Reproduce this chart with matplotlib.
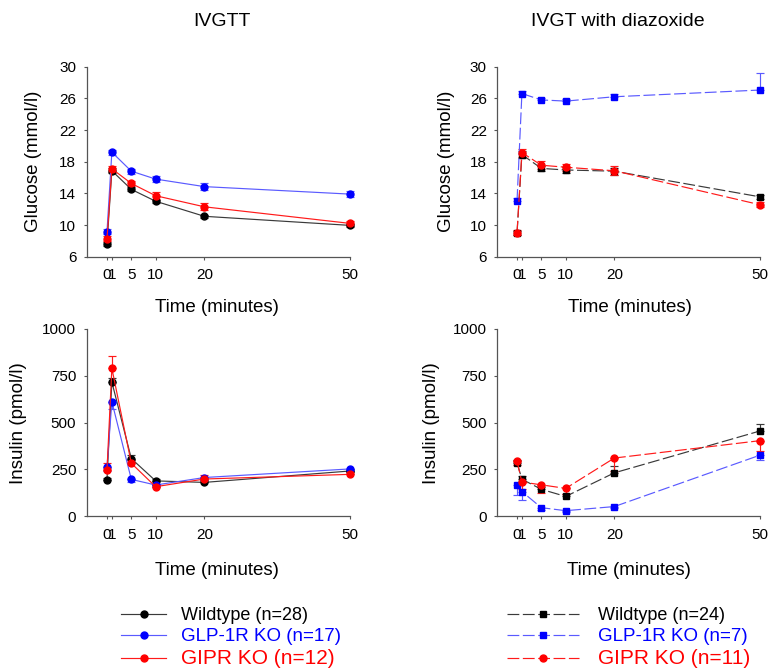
import matplotlib
matplotlib.use("Agg")
import matplotlib.pyplot as plt
from matplotlib.lines import Line2D
import numpy as np

plt.rcParams['font.family'] = ['Liberation Sans', 'DejaVu Sans']

# ---------------- data ----------------
time_min = [0, 1, 5, 10, 20, 50]
x_ticks = [0, 1, 5, 10, 20, 50]

# IVGTT glucose (mmol/l)
glu_wt = [7.65, 16.85, 14.5, 13.0, 11.1, 9.95]
glu_wt_err = [0.25, 0.3, 0.25, 0.2, 0.2, 0.2]
glu_glp = [9.15, 19.2, 16.8, 15.8, 14.85, 13.9]
glu_glp_err = [0.3, 0.3, 0.3, 0.35, 0.45, 0.35]
glu_gipr = [8.25, 17.1, 15.25, 13.7, 12.3, 10.2]
glu_gipr_err = [0.3, 0.4, 0.35, 0.45, 0.45, 0.3]

# IVGT with diazoxide glucose (mmol/l)
dglu_wt = [9.0, 18.9, 17.15, 16.95, 16.8, 13.55]
dglu_wt_err = [0.2, 0.4, 0.35, 0.4, 0.45, 0.3]
dglu_glp = [13.05, 26.6, 25.8, 25.65, 26.2, 27.05]
dglu_glp_err = [0.3, 0.3, 0.3, 0.3, 0.3, 2.1]
dglu_gipr = [9.05, 19.15, 17.55, 17.3, 16.85, 12.55]
dglu_gipr_err = [0.3, 0.5, 0.5, 0.45, 0.55, 0.3]

# IVGTT insulin (pmol/l)
ins_wt = [196, 717, 308, 189, 181, 242]
ins_wt_err = [10, 20, 20, 10, 12, 12]
ins_glp = [262, 612, 197, 167, 207, 253]
ins_glp_err = [20, 40, 12, 10, 15, 12]
ins_gipr = [247, 790, 283, 158, 199, 224]
ins_gipr_err = [35, 67, 16, 10, 21, 15]

# IVGT with diazoxide insulin (pmol/l)
dins_wt = [285, 198, 144, 106, 232, 456]
dins_wt_err = [15, 15, 15, 12, 35, 36]
dins_glp = [167, 132, 46, 30, 52, 327]
dins_glp_err = [53, 45, 10, 8, 10, 26]
dins_gipr = [295, 183, 168, 149, 311, 404]
dins_gipr_err = [20, 36, 41, 32, 71, 53]

labels_left = ["Wildtype (n=28)", "GLP-1R KO (n=17)", "GIPR KO (n=12)"]
labels_right = ["Wildtype (n=24)", "GLP-1R KO (n=7)", "GIPR KO (n=11)"]
titles = ["IVGTT", "IVGT with diazoxide"]

# ---------------- style ----------------
MK_COL = {'wt': '#000000', 'glp': '#0000ff', 'gipr': '#ff0000'}
LN_COL = {'wt': '#3a3a3a', 'glp': '#5a5aff', 'gipr': '#ff1a1a'}
TXT_COL = ['#000000', '#0000ff', '#ff0000']
LEG_SIZES = [13, 13.5, 15]
AX_COL = '#555555'
DASH = (10, 3)

fig = plt.figure(figsize=(7.72, 6.70), dpi=100)
ax1 = fig.add_axes([0.1123, 0.6169, 0.3415, 0.2836])
ax2 = fig.add_axes([0.6442, 0.6169, 0.3407, 0.2836])
ax3 = fig.add_axes([0.1123, 0.2294, 0.3415, 0.2796])
ax4 = fig.add_axes([0.6442, 0.2294, 0.3407, 0.2796])


def series(ax, y, err, key, direction, marker, dashed):
    e = np.asarray(err, dtype=float)
    z = np.zeros_like(e)
    if direction == 'up':
        yerr = [z, e]
    elif direction == 'down':
        yerr = [e, z]
    else:
        yerr = [e, e]
    ms = 5 if marker == 'o' else 4.3
    line, caps, bars = ax.errorbar(time_min, y, yerr=yerr, color=LN_COL[key], lw=0.85,
                                   marker=marker, ms=ms, mfc=MK_COL[key], mec=MK_COL[key],
                                   ecolor=LN_COL[key], elinewidth=0.85, capsize=2.6,
                                   capthick=0.85, clip_on=False)
    if dashed:
        line.set_dashes(DASH)
    for c in caps:
        c.set_clip_on(False)
    for b in bars:
        b.set_clip_on(False)
    return line


def style(ax, ylim, yticks, xmin, ylabel, yl_x, xl_y, xl_x):
    ax.set_xlim(xmin, 50)
    ax.set_ylim(*ylim)
    ax.set_yticks(yticks)
    ax.set_xticks(x_ticks)
    ax.set_xticklabels([str(t) for t in x_ticks])
    for s in ['top', 'right']:
        ax.spines[s].set_visible(False)
    for s in ['left', 'bottom']:
        ax.spines[s].set_color(AX_COL)
        ax.spines[s].set_linewidth(0.9)
    ax.tick_params(axis='both', direction='out', length=2, width=0.8, color=AX_COL,
                   labelsize=11)
    ax.tick_params(axis='y', pad=5.5)
    ax.tick_params(axis='x', pad=6.5)
    ax.set_ylabel(ylabel, fontsize=13.5)
    ax.yaxis.set_label_coords(yl_x, 0.5)
    ax.set_xlabel("Time (minutes)", fontsize=13.5, va='top')
    ax.xaxis.set_label_coords(xl_x, xl_y)


# panel 1
series(ax1, glu_wt, glu_wt_err, 'wt', 'both', 'o', False)
series(ax1, glu_glp, glu_glp_err, 'glp', 'both', 'o', False)
series(ax1, glu_gipr, glu_gipr_err, 'gipr', 'both', 'o', False)
style(ax1, (6, 30), [6, 10, 14, 18, 22, 26, 30], -4.17, "Glucose (mmol/l)", -0.17, -0.222, 0.494)

# panel 2
series(ax2, dglu_wt, dglu_wt_err, 'wt', 'both', 's', True)
series(ax2, dglu_glp, dglu_glp_err, 'glp', 'up', 's', True)
series(ax2, dglu_gipr, dglu_gipr_err, 'gipr', 'both', 'o', True)
style(ax2, (6, 30), [6, 10, 14, 18, 22, 26, 30], -4.05, "Glucose (mmol/l)", -0.161, -0.222, 0.505)

# panel 3
series(ax3, ins_wt, ins_wt_err, 'wt', 'up', 'o', False)
series(ax3, ins_glp, ins_glp_err, 'glp', 'down', 'o', False)
series(ax3, ins_gipr, ins_gipr_err, 'gipr', 'up', 'o', False)
style(ax3, (0, 1000), [0, 250, 500, 750, 1000], -4.17, "Insulin (pmol/l)", -0.226, -0.242, 0.494)

# panel 4
series(ax4, dins_wt, dins_wt_err, 'wt', 'up', 's', True)
series(ax4, dins_glp, dins_glp_err, 'glp', 'down', 's', True)
series(ax4, dins_gipr, dins_gipr_err, 'gipr', 'down', 'o', True)
style(ax4, (0, 1000), [0, 250, 500, 750, 1000], -4.05, "Insulin (pmol/l)", -0.218, -0.242, 0.50)

# titles
fig.text(222 / 772, 1 - 21 / 670, titles[0], ha='center', va='center', fontsize=14)
fig.text(618 / 772, 1 - 21 / 670, titles[1], ha='center', va='center', fontsize=14)

# legends
keys = ['wt', 'glp', 'gipr']
h_left = [Line2D([], [], color=LN_COL[k], lw=0.85, marker='o', ms=5,
                 mfc=MK_COL[k], mec=MK_COL[k]) for k in keys]
mk_right = ['s', 's', 'o']
h_right = []
for k, m in zip(keys, mk_right):
    ln = Line2D([], [], color=LN_COL[k], lw=0.85, marker=m, ms=4.3 if m == 's' else 5,
                mfc=MK_COL[k], mec=MK_COL[k])
    ln.set_dashes(DASH)
    h_right.append(ln)

legL = fig.legend(h_left, labels_left, loc='upper left',
                  bbox_to_anchor=(121 / 772, 1 - 607 / 670), frameon=False,
                  handlelength=2.5, handletextpad=0.85, labelspacing=0.22,
                  borderpad=0, borderaxespad=0, fontsize=13)
legR = fig.legend(h_right, labels_right, loc='upper left',
                  bbox_to_anchor=(507 / 772, 1 - 607 / 670), frameon=False,
                  handlelength=4.0, handletextpad=1.05, labelspacing=0.22,
                  borderpad=0, borderaxespad=0, fontsize=13)
for leg in (legL, legR):
    for t, c, s in zip(leg.get_texts(), TXT_COL, LEG_SIZES):
        t.set_color(c)
        t.set_fontsize(s)

fig.savefig("out.png", dpi=100)
